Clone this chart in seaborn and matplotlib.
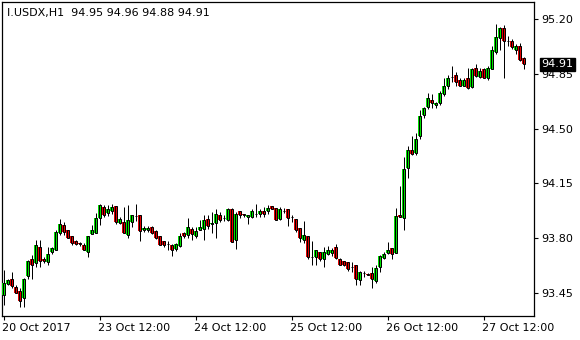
import numpy as np
import pandas as pd
import matplotlib
matplotlib.use("Agg")
import matplotlib.pyplot as plt
import matplotlib.transforms as mtransforms
import seaborn as sns

# ---- data (H1 bars of I.USDX) ----
opens = [93.435, 93.505, 93.54, 93.485, 93.46, 93.415, 93.555, 93.665, 93.64, 93.74,
         93.665, 93.645, 93.71, 93.72, 93.83, 93.88, 93.85, 93.81, 93.78, 93.77,
         93.755, 93.71, 93.825, 93.83, 93.925, 94.00, 93.96, 93.97, 94.005, 93.895,
         93.905, 93.82, 93.90, 93.94, 93.95, 93.85, 93.85, 93.87, 93.845, 93.81,
         93.78, 93.76, 93.755, 93.73, 93.75, 93.83, 93.82, 93.86, 93.81, 93.85,
         93.86, 93.92, 93.89, 93.895, 93.95, 93.93, 93.915, 93.985, 93.79, 93.97,
         93.955, 93.935, 93.935, 93.955, 93.955, 93.97, 93.97, 94.005, 93.99, 93.92,
         93.97, 93.985, 93.935, 93.92, 93.865, 93.79, 93.815, 93.68, 93.68, 93.71,
         93.665, 93.70, 93.705, 93.74, 93.665, 93.65, 93.645, 93.615, 93.63, 93.53,
         93.575, 93.57, 93.575, 93.525, 93.615, 93.67, 93.705, 93.735, 93.705, 93.95,
         93.93, 94.25, 94.365, 94.345, 94.45, 94.585, 94.635, 94.685, 94.65, 94.665,
         94.72, 94.775, 94.83, 94.84, 94.81, 94.775, 94.82, 94.765, 94.89, 94.83,
         94.88, 94.82, 94.88, 94.99, 95.08, 95.14, 95.06, 95.06, 95.005, 95.03,
         94.95]
highs = [93.595, 93.54, 93.58, 93.50, 93.48, 93.545, 93.66, 93.69, 93.79, 93.79,
         93.68, 93.745, 93.745, 93.85, 93.92, 93.90, 93.85, 93.81, 93.79, 93.775,
         93.765, 93.81, 93.88, 93.96, 94.015, 94.01, 94.01, 94.02, 94.005, 93.935,
         94.00, 94.01, 93.95, 94.02, 93.95, 93.875, 93.875, 93.875, 93.85, 93.81,
         93.78, 93.78, 93.76, 93.77, 93.83, 93.84, 93.93, 93.87, 93.87, 93.915,
         93.95, 93.95, 93.965, 93.985, 93.965, 93.95, 93.99, 93.99, 93.965, 93.975,
         93.955, 93.95, 93.985, 94.02, 93.985, 94.00, 94.01, 94.005, 93.99, 94.00,
         93.99, 93.985, 93.95, 93.92, 93.865, 93.91, 93.815, 93.78, 93.72, 93.71,
         93.74, 93.75, 93.735, 93.76, 93.67, 93.655, 93.645, 93.645, 93.63, 93.59,
         93.59, 93.575, 93.615, 93.63, 93.69, 93.71, 93.775, 93.735, 93.99, 94.13,
         94.32, 94.385, 94.45, 94.47, 94.62, 94.64, 94.73, 94.72, 94.67, 94.74,
         94.82, 94.84, 94.90, 94.86, 94.82, 94.82, 94.885, 94.89, 94.915, 94.885,
         94.885, 94.90, 95.03, 95.17, 95.15, 95.165, 95.09, 95.07, 95.04, 95.05,
         94.96]
lows = [93.37, 93.50, 93.48, 93.445, 93.36, 93.36, 93.54, 93.54, 93.615, 93.615,
        93.64, 93.63, 93.70, 93.72, 93.82, 93.82, 93.80, 93.755, 93.755, 93.75,
        93.72, 93.68, 93.825, 93.83, 93.88, 93.935, 93.94, 93.955, 93.89, 93.89,
        93.83, 93.80, 93.87, 93.91, 93.78, 93.84, 93.835, 93.825, 93.795, 93.755,
        93.745, 93.725, 93.685, 93.715, 93.74, 93.80, 93.80, 93.79, 93.80, 93.85,
        93.79, 93.86, 93.83, 93.80, 93.90, 93.91, 93.91, 93.775, 93.73, 93.93,
        93.935, 93.89, 93.93, 93.935, 93.935, 93.935, 93.955, 93.985, 93.915, 93.915,
        93.96, 93.875, 93.90, 93.84, 93.775, 93.77, 93.665, 93.63, 93.63, 93.65,
        93.615, 93.69, 93.685, 93.665, 93.63, 93.62, 93.59, 93.58, 93.50, 93.50,
        93.55, 93.56, 93.48, 93.51, 93.585, 93.665, 93.70, 93.665, 93.705, 93.935,
        93.85, 94.185, 94.33, 94.33, 94.435, 94.565, 94.625, 94.63, 94.63, 94.65,
        94.71, 94.75, 94.80, 94.775, 94.77, 94.77, 94.75, 94.76, 94.83, 94.82,
        94.82, 94.81, 94.88, 94.975, 95.00, 94.82, 95.025, 95.01, 94.975, 94.93,
        94.88]
closes = [93.51, 93.53, 93.49, 93.45, 93.40, 93.54, 93.65, 93.63, 93.755, 93.65,
          93.65, 93.70, 93.735, 93.84, 93.89, 93.84, 93.80, 93.77, 93.76, 93.76,
          93.72, 93.81, 93.85, 93.93, 94.01, 93.95, 93.985, 93.995, 93.90, 93.92,
          93.83, 93.915, 93.95, 93.94, 93.845, 93.865, 93.865, 93.83, 93.80, 93.755,
          93.755, 93.76, 93.72, 93.76, 93.815, 93.81, 93.87, 93.825, 93.845, 93.87,
          93.915, 93.875, 93.895, 93.955, 93.915, 93.93, 93.985, 93.775, 93.955, 93.95,
          93.945, 93.95, 93.97, 93.955, 93.97, 93.955, 93.99, 93.985, 93.915, 93.985,
          93.97, 93.93, 93.935, 93.85, 93.80, 93.82, 93.68, 93.68, 93.72, 93.665,
          93.71, 93.72, 93.72, 93.675, 93.63, 93.63, 93.60, 93.615, 93.54, 93.58,
          93.575, 93.565, 93.54, 93.61, 93.685, 93.70, 93.72, 93.70, 93.94, 93.935,
          94.24, 94.36, 94.34, 94.435, 94.58, 94.63, 94.695, 94.66, 94.665, 94.73,
          94.77, 94.82, 94.83, 94.80, 94.775, 94.81, 94.76, 94.88, 94.835, 94.865,
          94.825, 94.89, 95.00, 95.085, 95.14, 95.06, 95.06, 95.02, 95.025, 94.935,
          94.91]

price_ticks = [93.45, 93.80, 94.15, 94.50, 94.85, 95.20]
time_labels = ["20 Oct 2017", "23 Oct 12:00", "24 Oct 12:00",
               "25 Oct 12:00", "26 Oct 12:00", "27 Oct 12:00"]
time_label_bars = [0, 24, 48, 72, 96, 120]
symbol = "I.USDX,H1"
last_price = 94.91

BULL = "#00e000"
BEAR = "#e00000"

df = pd.DataFrame({"open": opens, "high": highs, "low": lows, "close": closes})
df["bar"] = np.arange(len(df))
df["body"] = df["close"] - df["open"]
body_colors = [BULL if c >= o else BEAR for o, c in zip(opens, closes)]

sns.set_theme(style="white")
plt.rcParams["font.family"] = ["DejaVu Sans"]

W, H = 580, 340
fig = plt.figure(figsize=(W / 100, H / 100), dpi=100)
fig.patch.set_facecolor("white")
ax = fig.add_axes([2 / W, 24 / H, 532 / W, 314 / H])
ax.set_facecolor("white")

x = df["bar"].to_numpy()
# wicks
ax.vlines(x, df["low"], df["high"], color="black", lw=0.72, zorder=2)
# body fill (3 px wide) and outline (1 px black frame)
ax.bar(x, df["body"].to_numpy(), bottom=df["open"].to_numpy(), width=0.75,
       color=body_colors, edgecolor="none", linewidth=0, zorder=3)
ax.bar(x, df["body"].to_numpy(), bottom=df["open"].to_numpy(), width=0.5,
       fill=False, edgecolor="black", linewidth=0.72, zorder=4)

ax.set_xlim(-0.375, 132.625)
ax.set_ylim(93.301, 95.309)

for s in ax.spines.values():
    s.set_visible(True)
    s.set_color("black")
    s.set_linewidth(0.9)

ax.yaxis.tick_right()
ax.set_yticks(price_ticks)
ax.set_yticklabels([f"{p:.2f}" for p in price_ticks])
ax.set_xticks(time_label_bars)
ax.set_xticklabels(time_labels, ha="left")
ax.tick_params(axis="both", which="both", direction="out", length=3, width=0.8,
               colors="black", labelsize=8, labelcolor="black")
ax.tick_params(axis="y", pad=2.5, left=False, right=True)
ax.tick_params(axis="x", pad=2, bottom=True)
off = mtransforms.ScaledTranslation(-2 / 100, 0, fig.dpi_scale_trans)
for lab in ax.get_xticklabels():
    lab.set_transform(lab.get_transform() + off)
ax.grid(False)

# header text
ax.text(5 / 532, 1 - 11 / 314,
        f"{symbol}  {opens[-1]:.2f} {highs[-1]:.2f} {lows[-1]:.2f} {closes[-1]:.2f}",
        transform=ax.transAxes, ha="left", va="center", fontsize=8, color="black")

# last price label
trans = mtransforms.blended_transform_factory(ax.transAxes, ax.transData)
ax.annotate(f"{last_price:.2f}", xy=(1, last_price), xycoords=trans,
            xytext=(5.2, 0), textcoords="offset points", ha="left", va="center",
            fontsize=8, color="white", annotation_clip=False, zorder=10,
            bbox=dict(boxstyle="square,pad=0.15", fc="black", ec="black"))

fig.savefig("out.png", dpi=100, facecolor="white")
